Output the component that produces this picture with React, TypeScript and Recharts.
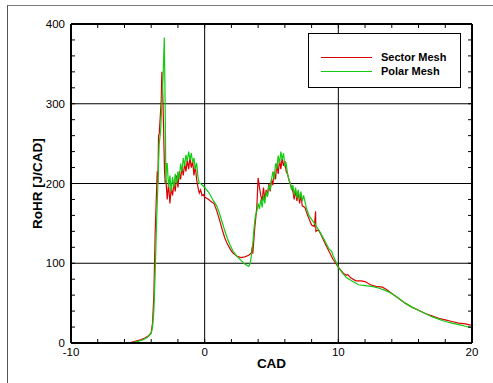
import React from 'react';
import { LineChart, Line, XAxis, YAxis, ReferenceLine } from 'recharts';

const sectorX = [
  -5.7, -5.2, -4.8, -4.5, -4.2, -4.0, -3.9, -3.8, -3.7, -3.6, -3.55, -3.5, -3.45, -3.4, -3.3, -3.25, -3.2, -3.15, -3.1, -3.05, -3.0, -2.95,
  -2.9, -2.8, -2.7, -2.6, -2.5, -2.4, -2.3, -2.2, -2.1, -2.0, -1.9, -1.8, -1.7, -1.6, -1.5, -1.4, -1.3, -1.2, -1.1, -1.0, -0.9, -0.8, -0.7, -0.6, -0.5, -0.4, -0.3, -0.2, -0.1, 0,
  0.3, 0.5, 0.7, 0.9, 1.1, 1.3, 1.5, 1.7, 1.9, 2.1, 2.4, 2.7, 3.0, 3.3, 3.5, 3.55, 3.6, 3.75, 3.9, 4.0, 4.1, 4.2, 4.3, 4.4, 4.5, 4.6, 4.7, 4.8, 4.9, 5.0, 5.1, 5.2, 5.3, 5.4, 5.5, 5.6, 5.7, 5.8, 5.9, 6.0, 6.1, 6.2, 6.3, 6.4, 6.5, 6.6, 6.7, 6.8, 6.9, 7.0, 7.1, 7.2, 7.3, 7.5, 7.7, 7.9, 8.0, 8.2, 8.3, 8.32, 8.5, 8.7, 9.0, 9.3, 9.6, 10, 10.4, 10.6, 10.7, 10.9, 11.3, 11.7, 12, 12.4, 12.8, 13.3, 13.6, 14, 14.5, 15, 15.5, 16, 16.5, 17, 17.5, 18, 18.5, 19, 19.5, 20,
];
const sectorY = [
  0, 2, 4, 6, 9, 13, 25, 60, 140, 190, 215, 200, 260, 262, 290, 305, 340, 320, 290, 250, 215, 200,
  205, 180, 200, 175, 195, 185, 200, 190, 210, 195, 215, 205, 220, 210, 225, 215, 230, 218, 232, 220, 228, 210, 222, 205, 195, 188, 192, 185, 186, 183,
  180, 177, 175, 166, 155, 143, 132, 124, 118, 113, 109, 107, 108, 110, 113, 120, 112, 145, 170, 207, 195, 185, 178, 195, 180, 192, 185, 200, 190, 205, 198, 215, 205, 225, 212, 230, 218, 232, 222, 228, 215, 212, 205, 200, 195, 190, 180, 192, 178, 190, 175, 185, 172, 170, 160, 152, 148, 146, 165, 140, 142, 136, 125, 115, 105, 95, 87, 85, 86, 82, 78, 78, 77, 73, 71, 70, 67, 62, 56, 50, 45, 41, 37, 34, 31, 29, 27, 25, 24, 22,
];

const polarX = [
  -5.5, -5.0, -4.6, -4.3, -4.0, -3.9, -3.8, -3.7, -3.6, -3.5, -3.4, -3.3, -3.2, -3.1, -3.02, -2.95, -2.9, -2.85,
  -2.8, -2.7, -2.6, -2.5, -2.4, -2.3, -2.2, -2.1, -2.0, -1.9, -1.8, -1.7, -1.6, -1.5, -1.4, -1.3, -1.2, -1.1, -1.0, -0.9, -0.8, -0.7, -0.6, -0.5, -0.4, -0.3,
  0, 0.3, 0.6, 0.9, 1.1, 1.3, 1.5, 1.7, 1.9, 2.1, 2.4, 2.7, 3.0, 3.2, 3.3, 3.4, 3.5, 3.6, 3.7, 3.8, 3.9, 4.0, 4.1, 4.2, 4.3, 4.4, 4.5, 4.6, 4.7, 4.8, 4.9, 5.0, 5.1, 5.2, 5.3, 5.4, 5.5, 5.6, 5.7, 5.8, 5.9, 6.0, 6.1, 6.2, 6.3, 6.4, 6.5, 6.6, 6.7, 6.8, 6.9, 7.0, 7.1, 7.2, 7.3, 7.4, 7.6, 7.8, 8.0, 8.3, 8.6, 9.0, 9.3, 9.5, 9.6, 10.0, 10.3, 10.6, 11, 11.5, 12, 12.5, 13, 13.5, 14, 14.5, 15, 15.5, 16, 16.5, 17, 17.5, 18, 18.5, 19, 19.5, 20,
];
const polarY = [
  0, 2, 4, 7, 12, 20, 40, 90, 150, 200, 250, 265, 300, 340, 383, 290, 200, 225,
  225, 195, 210, 190, 208, 195, 212, 200, 215, 205, 225, 215, 232, 222, 236, 228, 240, 230, 238, 226, 232, 218, 226, 208, 200, 200,
  195, 189, 180, 172, 163, 152, 141, 131, 123, 116, 109, 104, 99, 97, 96, 100, 110, 125, 145, 160, 165, 175, 168, 180, 170, 185, 175, 190, 183, 198, 192, 205, 215, 205, 225, 218, 235, 225, 240, 230, 238, 222, 225, 212, 205, 200, 192, 198, 185, 195, 182, 192, 180, 190, 178, 185, 170, 160, 155, 148, 140, 128, 118, 115, 110, 95, 88, 82, 78, 73, 72, 71, 69, 66, 62, 56, 50, 45, 41, 37, 33, 30, 27, 25, 23, 21, 19,
];

const xTicks = [-10, -8, -6, -4, -2, 0, 2, 4, 6, 8, 10, 12, 14, 16, 18, 20];
const yTicks = [0, 20, 40, 60, 80, 100, 120, 140, 160, 180, 200, 220, 240, 260, 280, 300, 320, 340, 360, 380, 400];
const xGrid = [0, 10];
const yGrid = [100, 200, 300];
const seriesNames = ['Sector Mesh', 'Polar Mesh'];
const seriesColors = ['#dd0000', '#11cc11'];

const sectorData = sectorX.map((x, i) => ({ cad: x, rohr: sectorY[i] }));
const polarData = polarX.map((x, i) => ({ cad: x, rohr: polarY[i] }));

const FONT = '"Liberation Sans", Arial, sans-serif';
const tickStyle = { fontSize: 11.5, fill: '#000', fontFamily: FONT };
const axisLineStyle = { stroke: '#000', strokeWidth: 2 };

const YTitle = (props: any) => {
  const vb = props.viewBox || {};
  const x = 37;
  const y = (vb.y ?? 24) + (vb.height ?? 319) / 2;
  return (
    <text x={x} y={y} transform={`rotate(-90 ${x} ${y})`} textAnchor="middle" dominantBaseline="central"
      style={{ fontSize: 13.5, fontWeight: 'bold', fontFamily: FONT, fill: '#000' }}>RoHR [J/CAD]</text>
  );
};

const XTitle = (props: any) => {
  const vb = props.viewBox || {};
  const x = (vb.x ?? 71) + (vb.width ?? 401) / 2;
  return (
    <text x={x} y={363} textAnchor="middle" dominantBaseline="central"
      style={{ fontSize: 13.5, fontWeight: 'bold', fontFamily: FONT, fill: '#000' }}>CAD</text>
  );
};

export default function App() {
  return (
    <div style={{ position: 'fixed', left: 0, top: 0, width: 493, height: 383, overflow: 'hidden', background: '#fff' }}>
      <div style={{ position: 'absolute', left: 7, top: 5, width: 600, height: 500, borderTop: '1px solid #777', borderLeft: '1px solid #555' }} />
      <div style={{ position: 'absolute', left: 0, top: 0 }}>
        <LineChart width={493} height={383} margin={{ top: 0, right: 0, bottom: 0, left: 0 }}>
          <XAxis xAxisId={0} dataKey="cad" type="number" domain={[-10, 20]} ticks={xTicks} allowDataOverflow
            orientation="bottom" height={40} tickSize={-4} tickMargin={9} interval={0}
            tickFormatter={(v: number) => (v % 10 === 0 ? String(v) : '')}
            tick={tickStyle} tickLine={{ stroke: '#000' }} axisLine={axisLineStyle}
            label={<XTitle />} />
          <XAxis xAxisId="top" dataKey="cad" type="number" domain={[-10, 20]} ticks={xTicks} allowDataOverflow
            orientation="top" height={24} tickSize={-4} tickMargin={0} interval={0}
            tickFormatter={() => ''} tick={tickStyle} tickLine={{ stroke: '#000' }} axisLine={axisLineStyle} />
          <YAxis yAxisId={0} type="number" domain={[0, 400]} ticks={yTicks} allowDataOverflow
            orientation="left" width={71} tickSize={-4} tickMargin={10} interval={0}
            tickFormatter={(v: number) => (v % 100 === 0 ? String(v) : '')}
            tick={tickStyle} tickLine={{ stroke: '#000' }} axisLine={axisLineStyle}
            label={<YTitle />} />
          <YAxis yAxisId="right" type="number" domain={[0, 400]} ticks={yTicks} allowDataOverflow
            orientation="right" width={21} tickSize={-4} tickMargin={0} interval={0}
            tickFormatter={() => ''} tick={tickStyle} tickLine={{ stroke: '#000' }} axisLine={axisLineStyle} />
          {xGrid.map((v) => (
            <ReferenceLine key={'gx' + v} x={v} stroke="#000" strokeWidth={1} ifOverflow="hidden" />
          ))}
          {yGrid.map((v) => (
            <ReferenceLine key={'gy' + v} y={v} stroke="#000" strokeWidth={1} ifOverflow="hidden" />
          ))}
          <Line data={sectorData} dataKey="rohr" name={seriesNames[0]} stroke={seriesColors[0]} strokeWidth={1.2}
            dot={false} activeDot={false} isAnimationActive={false} type="linear" />
          <Line data={polarData} dataKey="rohr" name={seriesNames[1]} stroke={seriesColors[1]} strokeWidth={1.2}
            dot={false} activeDot={false} isAnimationActive={false} type="linear" />
        </LineChart>
      </div>
      <div style={{ position: 'absolute', left: 308, top: 33, width: 151, height: 53, border: '1.5px solid #000', background: '#fff' }}>
        {seriesNames.map((n, i) => (
          <div key={n} style={{ position: 'absolute', left: 12, top: 16 + i * 14, height: 14, display: 'flex', alignItems: 'center' }}>
            <div style={{ width: 51, height: 0, borderTop: `1.5px solid ${seriesColors[i]}` }} />
            <span style={{ marginLeft: 9, fontFamily: FONT, fontWeight: 'bold', fontSize: 11, color: '#000', whiteSpace: 'nowrap' }}>{n}</span>
          </div>
        ))}
      </div>
    </div>
  );
}
